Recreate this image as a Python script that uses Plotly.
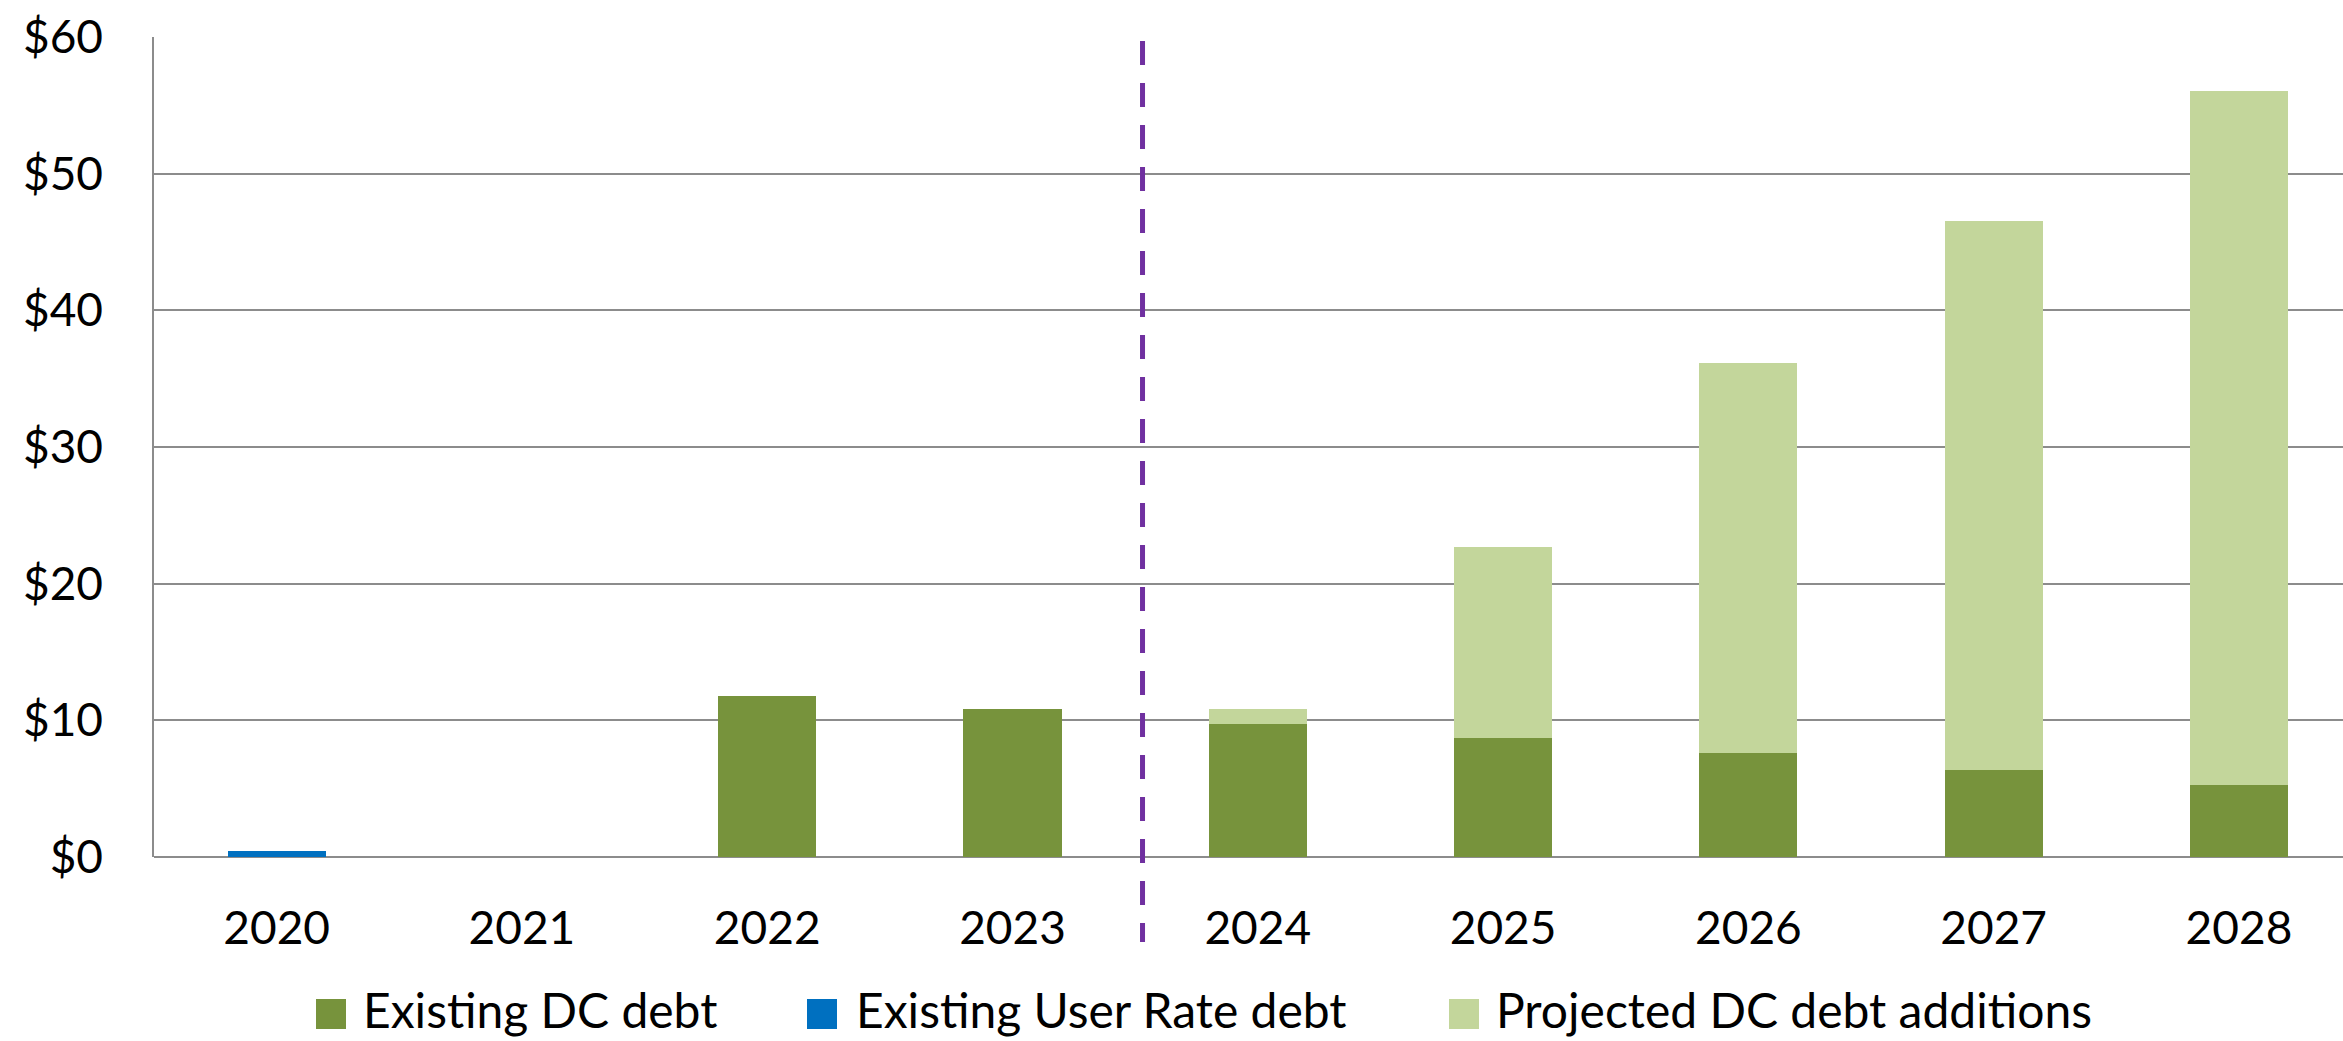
import plotly.graph_objects as go

# Annual debt-servicing costs by year, $ millions
years = ["2020", "2021", "2022", "2023", "2024", "2025", "2026", "2027", "2028"]
existing_dc_debt = [0, 0, 11.8, 10.8, 9.75, 8.7, 7.6, 6.4, 5.25]
existing_user_rate_debt = [0.45, 0, 0, 0, 0, 0, 0, 0, 0]
projected_dc_additions = [0, 0, 0, 0, 1.05, 14.0, 28.55, 40.15, 50.8]

series_names = ["Existing DC debt", "Existing User Rate debt", "Projected DC debt additions"]
series_colors = ["#77933C", "#0070C0", "#C3D69B"]
y_ticks = [0, 10, 20, 30, 40, 50, 60]
y_tick_labels = ["$" + str(v) for v in y_ticks]
first_projected_year = "2024"

W, H = 2343, 1041
ML, MR, MT, MB = 154, 0, 37, 184
FONT = "Lato"
GRID = "#8c8c8c"

fig = go.Figure()
for name, vals, col in zip(series_names,
                           [existing_dc_debt, existing_user_rate_debt, projected_dc_additions],
                           series_colors):
    fig.add_trace(go.Bar(
        x=years, y=vals, name=name, marker=dict(color=col, line=dict(width=0)),
        width=0.4, showlegend=False,
    ))

plot_w = W - ML - MR
plot_h = H - MT - MB


def px_x(p):
    return (p - ML) / plot_w


def px_y(p):
    return (H - MB - p) / plot_h


# Divider between actual and projected years
split = years.index(first_projected_year) - 0.47
fig.add_shape(type="line", xref="x", yref="paper", x0=split, x1=split,
              y0=px_y(41), y1=px_y(942),
              line=dict(color="#7030A0", width=5, dash="24px,18px"), layer="above")

# Legend: square swatches with labels along the bottom
legend_items = [(316, 362), (807, 855), (1449, 1495)]
for (sx, tx), name, col in zip(legend_items, series_names, series_colors):
    fig.add_shape(type="rect", xref="paper", yref="paper",
                  x0=px_x(sx), x1=px_x(sx + 30), y0=px_y(999), y1=px_y(1029),
                  fillcolor=col, line=dict(width=0))
    fig.add_annotation(xref="paper", yref="paper", x=px_x(tx), y=px_y(1009),
                       xanchor="left", yanchor="middle", showarrow=False,
                       borderpad=0,
                       text=name, font=dict(family=FONT, size=48, color="#000000"))

# Show 8.5 - overflow so the last category runs just past the right edge
x_hi = 8.5 - (2361.6 - W) / (plot_w / 8.925)

fig.update_layout(
    width=W, height=H,
    margin=dict(l=ML, r=MR, t=MT, b=MB, pad=0),
    paper_bgcolor="white", plot_bgcolor="white",
    barmode="stack", bargap=0.6,
    showlegend=False,
    font=dict(family=FONT, size=46, color="#000000"),
    xaxis=dict(
        type="category", range=[-0.5, x_hi], showgrid=False,
        showline=False, ticks="", ticklabelstandoff=40,
        tickfont=dict(family=FONT, size=46, color="#000000"),
        zeroline=False,
    ),
    yaxis=dict(
        range=[0, 60], tickmode="array", tickvals=y_ticks, ticktext=y_tick_labels,
        showgrid=True, gridcolor=GRID, gridwidth=1.5,
        showline=True, linecolor=GRID, linewidth=1.5,
        zeroline=True, zerolinecolor=GRID, zerolinewidth=1.5,
        ticks="", ticklabelstandoff=40,
        tickfont=dict(family=FONT, size=46, color="#000000"),
    ),
)

fig.write_html("out.html")
